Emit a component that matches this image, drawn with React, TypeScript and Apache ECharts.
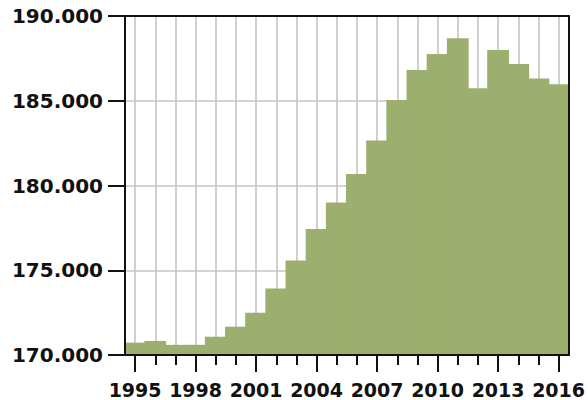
import React, { useEffect, useRef } from "react";
import * as echarts from "echarts";

const years = [
  "1995", "1996", "1997", "1998", "1999", "2000", "2001", "2002", "2003", "2004", "2005",
  "2006", "2007", "2008", "2009", "2010", "2011", "2012", "2013", "2014", "2015", "2016",
];
const values = [
  170730, 170830, 170600, 170600, 171080, 171670, 172500, 173930, 175570, 177430, 178990,
  180680, 182650, 185050, 186820, 187760, 188680, 185740, 188000, 187170, 186320, 185970,
];
const yMin = 170000;
const yMax = 190000;
const yStep = 5000;

const fmt = (v: number) => {
  const s = Math.round(v).toString();
  return s.replace(/\B(?=(\d{3})+(?!\d))/g, ".");
};

export default function App() {
  const ref = useRef<HTMLDivElement>(null);
  useEffect(() => {
    document.body.style.margin = "0";
    const chart = echarts.init(ref.current!, null, { renderer: "svg" });
    const black = "#111";
    const green = "#9caf6e";
    const font = { fontFamily: "DejaVu Sans", fontWeight: "bold" as const, color: black };
    const hidden = { show: false };
    chart.setOption({
      animation: false,
      grid: { left: 125, right: 18, top: 16, bottom: 45, containLabel: false },
      xAxis: [
        {
          type: "category", data: years, boundaryGap: true, position: "bottom", z: 5,
          axisLine: { show: true, lineStyle: { color: black, width: 2 } },
          axisTick: { show: true, interval: 0, alignWithLabel: true, length: 10, lineStyle: { color: black, width: 2 } },
          axisLabel: hidden, splitLine: hidden,
        },
        {
          type: "category", data: years, boundaryGap: true, position: "bottom", z: 5,
          axisLine: hidden,
          axisTick: { show: true, interval: 2, alignWithLabel: true, length: 17, lineStyle: { color: black, width: 2 } },
          axisLabel: { show: true, interval: 2, margin: 25, fontSize: 19, ...font },
          splitLine: hidden,
        },
        {
          type: "category", data: years, boundaryGap: true, position: "bottom", z: 0,
          axisLine: hidden, axisTick: hidden, axisLabel: hidden,
          splitLine: { show: true, interval: 0, alignWithLabel: true, lineStyle: { color: "#c4c4c4", width: 1.6 } },
        },
        {
          type: "category", data: years, boundaryGap: true, position: "top", z: 5,
          axisLine: { show: true, lineStyle: { color: black, width: 2 } },
          axisTick: hidden, axisLabel: hidden, splitLine: hidden,
        },
      ],
      yAxis: [
        {
          type: "value", min: yMin, max: yMax, interval: yStep, position: "left", z: 5,
          axisLine: { show: true, lineStyle: { color: black, width: 2 } },
          axisTick: { show: true, length: 17, lineStyle: { color: black, width: 2 } },
          axisLabel: { show: true, margin: 22, fontSize: 20, formatter: (v: number) => fmt(v), ...font },
          splitLine: hidden,
        },
        {
          type: "value", min: yMin, max: yMax, interval: yStep, position: "left", z: 0,
          axisLine: hidden, axisTick: hidden, axisLabel: hidden,
          splitLine: { show: true, lineStyle: { color: "#c4c4c4", width: 1.6 } },
        },
        {
          type: "value", min: yMin, max: yMax, interval: yStep, position: "right", z: 5,
          axisLine: { show: true, lineStyle: { color: black, width: 2 } },
          axisTick: hidden, axisLabel: hidden, splitLine: hidden,
        },
      ],
      series: [
        {
          type: "bar", data: values, xAxisIndex: 0, yAxisIndex: 0,
          barWidth: "108%", barCategoryGap: "0%",
          itemStyle: { color: green },
          z: 2,
        },
      ],
    });
    return () => chart.dispose();
  }, []);
  return <div ref={ref} style={{ width: 588, height: 400 }} />;
}
